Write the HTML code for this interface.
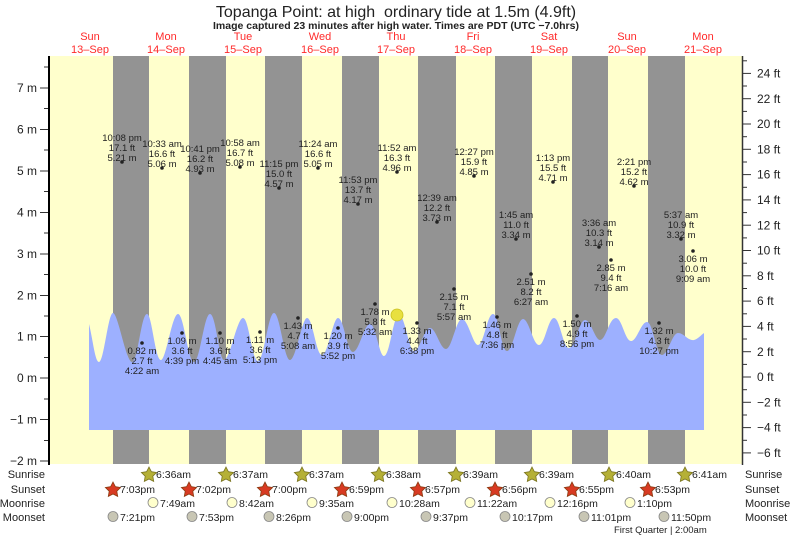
<!DOCTYPE html>
<html><head><meta charset="utf-8"><style>
html,body{margin:0;padding:0;background:#fff}
svg{display:block;font-family:"Liberation Sans",sans-serif}
</style></head><body>
<svg width="793" height="537" viewBox="0 0 793 537" xmlns="http://www.w3.org/2000/svg">
<rect x="0" y="0" width="793" height="537" fill="#fff"/>
<text x="396" y="17" font-size="16" text-anchor="middle" fill="#222">Topanga Point: at high&#160; ordinary tide at 1.5m (4.9ft)</text>
<text x="396" y="29" font-size="10.5" font-weight="bold" text-anchor="middle" fill="#222">Image captured 23 minutes after high water. Times are PDT (UTC −7.0hrs)</text>
<g font-size="11" fill="#ff2a2a" text-anchor="middle">
<text x="90" y="40">Sun</text><text x="90" y="53">13‒Sep</text>
<text x="166" y="40">Mon</text><text x="166" y="53">14‒Sep</text>
<text x="243" y="40">Tue</text><text x="243" y="53">15‒Sep</text>
<text x="320" y="40">Wed</text><text x="320" y="53">16‒Sep</text>
<text x="396" y="40">Thu</text><text x="396" y="53">17‒Sep</text>
<text x="473" y="40">Fri</text><text x="473" y="53">18‒Sep</text>
<text x="549" y="40">Sat</text><text x="549" y="53">19‒Sep</text>
<text x="627" y="40">Sun</text><text x="627" y="53">20‒Sep</text>
<text x="703" y="40">Mon</text><text x="703" y="53">21‒Sep</text>
</g>
<rect x="50" y="56" width="692" height="408" fill="#ffffcc"/>
<g fill="#939393">
<rect x="113" y="56" width="36" height="408"/><rect x="189" y="56" width="37" height="408"/>
<rect x="265" y="56" width="37" height="408"/><rect x="342" y="56" width="37" height="408"/>
<rect x="418" y="56" width="38" height="408"/><rect x="495" y="56" width="37" height="408"/>
<rect x="572" y="56" width="36" height="408"/><rect x="648" y="56" width="37" height="408"/>
</g>
<path fill="#9db0ff" d="M89,324 C93,340 95,362 99,362 C104,362 108,313 113,313 C118,313 126,362 132,362 C138,362 141,314 147,314 C152,314 155,360 161,360 C166,360 172,314 178,314 C184,314 188,362 194,362 C200,362 204,314 210,314 C216,314 219,360 224,360 C230,360 237,318 243,318 C249,318 252,361 258,361 C264,361 268,313 274,313 C280,313 284,360 290,360 C296,360 302,318 307,318 C313,318 316,355 322,355 C328,355 333,318 338,318 C344,318 347,352 353,352 C359,352 364,324 370,324 C376,324 379,356 384,356 C390,356 393,315 399,315 C405,315 409,351 414,351 C420,351 424,328 430,328 C436,328 440,349 446,349 C452,349 456,319 462,319 C468,319 473,345 478,345 C484,345 487,314 493,314 C499,314 501,351 507,351 C513,351 517,319 523,319 C529,319 533,345 539,345 C545,345 548,318 554,318 C560,318 563,348 569,348 C575,348 579,320 585,320 C591,320 595,340 600,340 C606,340 609,318 616,318 C622,318 625,341 631,341 C637,341 641,322 647,322 C653,322 656,355 662,355 C668,355 672,333 678,333 C684,333 688,341 694,340 C698,339 701,335 704,333 L704,430 L89,430 Z"/>
<circle cx="397" cy="315" r="6" fill="#e8e040" stroke="#c8c020" stroke-width="0.8"/>
<line x1="49" y1="56" x2="49" y2="465" stroke="#000" stroke-width="2"/>
<line x1="742.5" y1="56" x2="742.5" y2="465" stroke="#333" stroke-width="1.5"/>
<g stroke="#333" stroke-width="1">
<line x1="40" y1="88" x2="48" y2="88"/><line x1="40" y1="129.5" x2="48" y2="129.5"/><line x1="40" y1="171" x2="48" y2="171"/><line x1="40" y1="212.5" x2="48" y2="212.5"/><line x1="40" y1="254" x2="48" y2="254"/><line x1="40" y1="295.5" x2="48" y2="295.5"/><line x1="40" y1="336.5" x2="48" y2="336.5"/><line x1="40" y1="378" x2="48" y2="378"/><line x1="40" y1="419.5" x2="48" y2="419.5"/><line x1="40" y1="461" x2="48" y2="461"/>
<line x1="44" y1="67" x2="48" y2="67"/><line x1="44" y1="108.5" x2="48" y2="108.5"/><line x1="44" y1="150" x2="48" y2="150"/><line x1="44" y1="191.5" x2="48" y2="191.5"/><line x1="44" y1="233" x2="48" y2="233"/><line x1="44" y1="274.5" x2="48" y2="274.5"/><line x1="44" y1="316" x2="48" y2="316"/><line x1="44" y1="357.5" x2="48" y2="357.5"/><line x1="44" y1="399" x2="48" y2="399"/><line x1="44" y1="440.5" x2="48" y2="440.5"/>
<line x1="743" y1="73.4" x2="751" y2="73.4"/><line x1="743" y1="98.7" x2="751" y2="98.7"/><line x1="743" y1="124" x2="751" y2="124"/><line x1="743" y1="149.3" x2="751" y2="149.3"/><line x1="743" y1="174.6" x2="751" y2="174.6"/><line x1="743" y1="199.9" x2="751" y2="199.9"/><line x1="743" y1="225.2" x2="751" y2="225.2"/><line x1="743" y1="250.5" x2="751" y2="250.5"/><line x1="743" y1="275.8" x2="751" y2="275.8"/><line x1="743" y1="301.1" x2="751" y2="301.1"/><line x1="743" y1="326.4" x2="751" y2="326.4"/><line x1="743" y1="351.7" x2="751" y2="351.7"/><line x1="743" y1="377" x2="751" y2="377"/><line x1="743" y1="402.3" x2="751" y2="402.3"/><line x1="743" y1="427.6" x2="751" y2="427.6"/><line x1="743" y1="452.9" x2="751" y2="452.9"/>
<line x1="743" y1="60.8" x2="747" y2="60.8"/><line x1="743" y1="86" x2="747" y2="86"/><line x1="743" y1="111.4" x2="747" y2="111.4"/><line x1="743" y1="136.7" x2="747" y2="136.7"/><line x1="743" y1="162" x2="747" y2="162"/><line x1="743" y1="187.3" x2="747" y2="187.3"/><line x1="743" y1="212.6" x2="747" y2="212.6"/><line x1="743" y1="237.9" x2="747" y2="237.9"/><line x1="743" y1="263.2" x2="747" y2="263.2"/><line x1="743" y1="288.5" x2="747" y2="288.5"/><line x1="743" y1="313.8" x2="747" y2="313.8"/><line x1="743" y1="339" x2="747" y2="339"/><line x1="743" y1="364.4" x2="747" y2="364.4"/><line x1="743" y1="389.7" x2="747" y2="389.7"/><line x1="743" y1="415" x2="747" y2="415"/><line x1="743" y1="440.3" x2="747" y2="440.3"/>
</g>
<g font-size="12" fill="#222" text-anchor="end">
<text x="37" y="92">7 m</text><text x="37" y="175">5 m</text><text x="37" y="133.5">6 m</text><text x="37" y="216.5">4 m</text><text x="37" y="258">3 m</text><text x="37" y="299.5">2 m</text><text x="37" y="340.5">1 m</text><text x="37" y="382">0 m</text><text x="37" y="423.5">−1 m</text><text x="37" y="465">−2 m</text>
</g>
<g font-size="12" fill="#222">
<text x="757" y="77.5">24 ft</text><text x="757" y="102.8">22 ft</text><text x="757" y="128">20 ft</text><text x="757" y="153.4">18 ft</text><text x="757" y="178.7">16 ft</text><text x="757" y="204">14 ft</text><text x="757" y="229.3">12 ft</text><text x="757" y="254.6">10 ft</text><text x="757" y="279.9">8 ft</text><text x="757" y="305.2">6 ft</text><text x="757" y="330.5">4 ft</text><text x="757" y="355.8">2 ft</text><text x="757" y="381">0 ft</text><text x="757" y="406.4">−2 ft</text><text x="757" y="431.7">−4 ft</text><text x="757" y="457">−6 ft</text>
</g>
<g font-size="9.5" fill="#222" text-anchor="middle">
<circle cx="122" cy="162" r="1.8"/><text x="122" y="141">10:08 pm</text><text x="122" y="151">17.1 ft</text><text x="122" y="161">5.21 m</text>
<circle cx="162" cy="168" r="1.8"/><text x="162" y="147">10:33 am</text><text x="162" y="157">16.6 ft</text><text x="162" y="167">5.06 m</text>
<circle cx="200" cy="173" r="1.8"/><text x="200" y="152">10:41 pm</text><text x="200" y="162">16.2 ft</text><text x="200" y="172">4.93 m</text>
<circle cx="240" cy="167" r="1.8"/><text x="240" y="146">10:58 am</text><text x="240" y="156">16.7 ft</text><text x="240" y="166">5.08 m</text>
<circle cx="279" cy="188" r="1.8"/><text x="279" y="167">11:15 pm</text><text x="279" y="177">15.0 ft</text><text x="279" y="187">4.57 m</text>
<circle cx="318" cy="168" r="1.8"/><text x="318" y="147">11:24 am</text><text x="318" y="157">16.6 ft</text><text x="318" y="167">5.05 m</text>
<circle cx="358" cy="204" r="1.8"/><text x="358" y="183">11:53 pm</text><text x="358" y="193">13.7 ft</text><text x="358" y="203">4.17 m</text>
<circle cx="397" cy="172" r="1.8"/><text x="397" y="151">11:52 am</text><text x="397" y="161">16.3 ft</text><text x="397" y="171">4.96 m</text>
<circle cx="437" cy="222" r="1.8"/><text x="437" y="201">12:39 am</text><text x="437" y="211">12.2 ft</text><text x="437" y="221">3.73 m</text>
<circle cx="474" cy="176" r="1.8"/><text x="474" y="155">12:27 pm</text><text x="474" y="165">15.9 ft</text><text x="474" y="175">4.85 m</text>
<circle cx="516" cy="239" r="1.8"/><text x="516" y="218">1:45 am</text><text x="516" y="228">11.0 ft</text><text x="516" y="238">3.34 m</text>
<circle cx="553" cy="182" r="1.8"/><text x="553" y="161">1:13 pm</text><text x="553" y="171">15.5 ft</text><text x="553" y="181">4.71 m</text>
<circle cx="599" cy="247" r="1.8"/><text x="599" y="226">3:36 am</text><text x="599" y="236">10.3 ft</text><text x="599" y="246">3.14 m</text>
<circle cx="634" cy="186" r="1.8"/><text x="634" y="165">2:21 pm</text><text x="634" y="175">15.2 ft</text><text x="634" y="185">4.62 m</text>
<circle cx="681" cy="239" r="1.8"/><text x="681" y="218">5:37 am</text><text x="681" y="228">10.9 ft</text><text x="681" y="238">3.32 m</text>

<circle cx="142" cy="343" r="1.8"/><text x="142" y="354">0.82 m</text><text x="142" y="364">2.7 ft</text><text x="142" y="374">4:22 am</text>
<circle cx="182" cy="333" r="1.8"/><text x="182" y="344">1.09 m</text><text x="182" y="354">3.6 ft</text><text x="182" y="364">4:39 pm</text>
<circle cx="220" cy="333" r="1.8"/><text x="220" y="344">1.10 m</text><text x="220" y="354">3.6 ft</text><text x="220" y="364">4:45 am</text>
<circle cx="260" cy="332" r="1.8"/><text x="260" y="343">1.11 m</text><text x="260" y="353">3.6 ft</text><text x="260" y="363">5:13 pm</text>
<circle cx="298" cy="318" r="1.8"/><text x="298" y="329">1.43 m</text><text x="298" y="339">4.7 ft</text><text x="298" y="349">5:08 am</text>
<circle cx="338" cy="328" r="1.8"/><text x="338" y="339">1.20 m</text><text x="338" y="349">3.9 ft</text><text x="338" y="359">5:52 pm</text>
<circle cx="375" cy="304" r="1.8"/><text x="375" y="315">1.78 m</text><text x="375" y="325">5.8 ft</text><text x="375" y="335">5:32 am</text>
<circle cx="417" cy="323" r="1.8"/><text x="417" y="334">1.33 m</text><text x="417" y="344">4.4 ft</text><text x="417" y="354">6:38 pm</text>
<circle cx="454" cy="289" r="1.8"/><text x="454" y="300">2.15 m</text><text x="454" y="310">7.1 ft</text><text x="454" y="320">5:57 am</text>
<circle cx="497" cy="317" r="1.8"/><text x="497" y="328">1.46 m</text><text x="497" y="338">4.8 ft</text><text x="497" y="348">7:36 pm</text>
<circle cx="531" cy="274" r="1.8"/><text x="531" y="285">2.51 m</text><text x="531" y="295">8.2 ft</text><text x="531" y="305">6:27 am</text>
<circle cx="577" cy="316" r="1.8"/><text x="577" y="327">1.50 m</text><text x="577" y="337">4.9 ft</text><text x="577" y="347">8:56 pm</text>
<circle cx="611" cy="260" r="1.8"/><text x="611" y="271">2.85 m</text><text x="611" y="281">9.4 ft</text><text x="611" y="291">7:16 am</text>
<circle cx="659" cy="323" r="1.8"/><text x="659" y="334">1.32 m</text><text x="659" y="344">4.3 ft</text><text x="659" y="354">10:27 pm</text>
<circle cx="693" cy="251" r="1.8"/><text x="693" y="262">3.06 m</text><text x="693" y="272">10.0 ft</text><text x="693" y="282">9:09 am</text>
</g>
<g font-size="11" fill="#222" text-anchor="end">
<text x="45" y="478">Sunrise</text><text x="45" y="493">Sunset</text><text x="45" y="507">Moonrise</text><text x="45" y="521">Moonset</text>
</g>
<g font-size="11" fill="#222">
<text x="745" y="478">Sunrise</text><text x="745" y="493">Sunset</text><text x="745" y="507">Moonrise</text><text x="745" y="521">Moonset</text>
</g>
<g font-size="10.5" fill="#222">
<g fill="#b5b036" stroke="#7a7420" stroke-width="0.8">
<polygon points="149,467 151.4,471.7 156.6,472.5 152.8,476.2 153.7,481.4 149,479 144.3,481.4 145.2,476.2 141.4,472.5 146.6,471.7"/>
<polygon points="226,467 228.4,471.7 233.6,472.5 229.8,476.2 230.7,481.4 226,479 221.3,481.4 222.2,476.2 218.4,472.5 223.6,471.7"/>
<polygon points="302,467 304.4,471.7 309.6,472.5 305.8,476.2 306.7,481.4 302,479 297.3,481.4 298.2,476.2 294.4,472.5 299.6,471.7"/>
<polygon points="379,467 381.4,471.7 386.6,472.5 382.8,476.2 383.7,481.4 379,479 374.3,481.4 375.2,476.2 371.4,472.5 376.6,471.7"/>
<polygon points="456,467 458.4,471.7 463.6,472.5 459.8,476.2 460.7,481.4 456,479 451.3,481.4 452.2,476.2 448.4,472.5 453.6,471.7"/>
<polygon points="532,467 534.4,471.7 539.6,472.5 535.8,476.2 536.7,481.4 532,479 527.3,481.4 528.2,476.2 524.4,472.5 529.6,471.7"/>
<polygon points="609,467 611.4,471.7 616.6,472.5 612.8,476.2 613.7,481.4 609,479 604.3,481.4 605.2,476.2 601.4,472.5 606.6,471.7"/>
<polygon points="685,467 687.4,471.7 692.6,472.5 688.8,476.2 689.7,481.4 685,479 680.3,481.4 681.2,476.2 677.4,472.5 682.6,471.7"/>
</g>
<g fill="#d83a22" stroke="#8a3a10" stroke-width="0.8">
<polygon points="113,482 115.4,486.7 120.6,487.5 116.8,491.2 117.7,496.4 113,494 108.3,496.4 109.2,491.2 105.4,487.5 110.6,486.7"/>
<polygon points="189,482 191.4,486.7 196.6,487.5 192.8,491.2 193.7,496.4 189,494 184.3,496.4 185.2,491.2 181.4,487.5 186.6,486.7"/>
<polygon points="265,482 267.4,486.7 272.6,487.5 268.8,491.2 269.7,496.4 265,494 260.3,496.4 261.2,491.2 257.4,487.5 262.6,486.7"/>
<polygon points="342,482 344.4,486.7 349.6,487.5 345.8,491.2 346.7,496.4 342,494 337.3,496.4 338.2,491.2 334.4,487.5 339.6,486.7"/>
<polygon points="418,482 420.4,486.7 425.6,487.5 421.8,491.2 422.7,496.4 418,494 413.3,496.4 414.2,491.2 410.4,487.5 415.6,486.7"/>
<polygon points="495,482 497.4,486.7 502.6,487.5 498.8,491.2 499.7,496.4 495,494 490.3,496.4 491.2,491.2 487.4,487.5 492.6,486.7"/>
<polygon points="572,482 574.4,486.7 579.6,487.5 575.8,491.2 576.7,496.4 572,494 567.3,496.4 568.2,491.2 564.4,487.5 569.6,486.7"/>
<polygon points="648,482 650.4,486.7 655.6,487.5 651.8,491.2 652.7,496.4 648,494 643.3,496.4 644.2,491.2 640.4,487.5 645.6,486.7"/>
</g>
<g fill="#ffffcc" stroke="#888" stroke-width="0.8">
<circle cx="153" cy="502.5" r="5"/><circle cx="232" cy="502.5" r="5"/><circle cx="312" cy="502.5" r="5"/><circle cx="392" cy="502.5" r="5"/><circle cx="470" cy="502.5" r="5"/><circle cx="550" cy="502.5" r="5"/><circle cx="630" cy="502.5" r="5"/>
</g>
<g fill="#c8c6b4" stroke="#888" stroke-width="0.8">
<circle cx="113" cy="516.5" r="5"/><circle cx="192" cy="516.5" r="5"/><circle cx="269" cy="516.5" r="5"/><circle cx="347" cy="516.5" r="5"/><circle cx="426" cy="516.5" r="5"/><circle cx="505" cy="516.5" r="5"/><circle cx="584" cy="516.5" r="5"/><circle cx="664" cy="516.5" r="5"/>
</g>
<text x="156" y="478">6:36am</text><text x="233" y="478">6:37am</text><text x="309" y="478">6:37am</text><text x="386" y="478">6:38am</text><text x="463" y="478">6:39am</text><text x="539" y="478">6:39am</text><text x="616" y="478">6:40am</text><text x="692" y="478">6:41am</text>
<text x="120" y="493">7:03pm</text><text x="196" y="493">7:02pm</text><text x="272" y="493">7:00pm</text><text x="349" y="493">6:59pm</text><text x="425" y="493">6:57pm</text><text x="502" y="493">6:56pm</text><text x="579" y="493">6:55pm</text><text x="655" y="493">6:53pm</text>
<text x="160" y="507">7:49am</text><text x="239" y="507">8:42am</text><text x="319" y="507">9:35am</text><text x="399" y="507">10:28am</text><text x="477" y="507">11:22am</text><text x="557" y="507">12:16pm</text><text x="637" y="507">1:10pm</text>
<text x="120" y="521">7:21pm</text><text x="199" y="521">7:53pm</text><text x="276" y="521">8:26pm</text><text x="354" y="521">9:00pm</text><text x="433" y="521">9:37pm</text><text x="512" y="521">10:17pm</text><text x="591" y="521">11:01pm</text><text x="671" y="521">11:50pm</text>
<text x="614" y="533" font-size="9.5">First Quarter | 2:00am</text>
</g>
</svg>
</body></html>
